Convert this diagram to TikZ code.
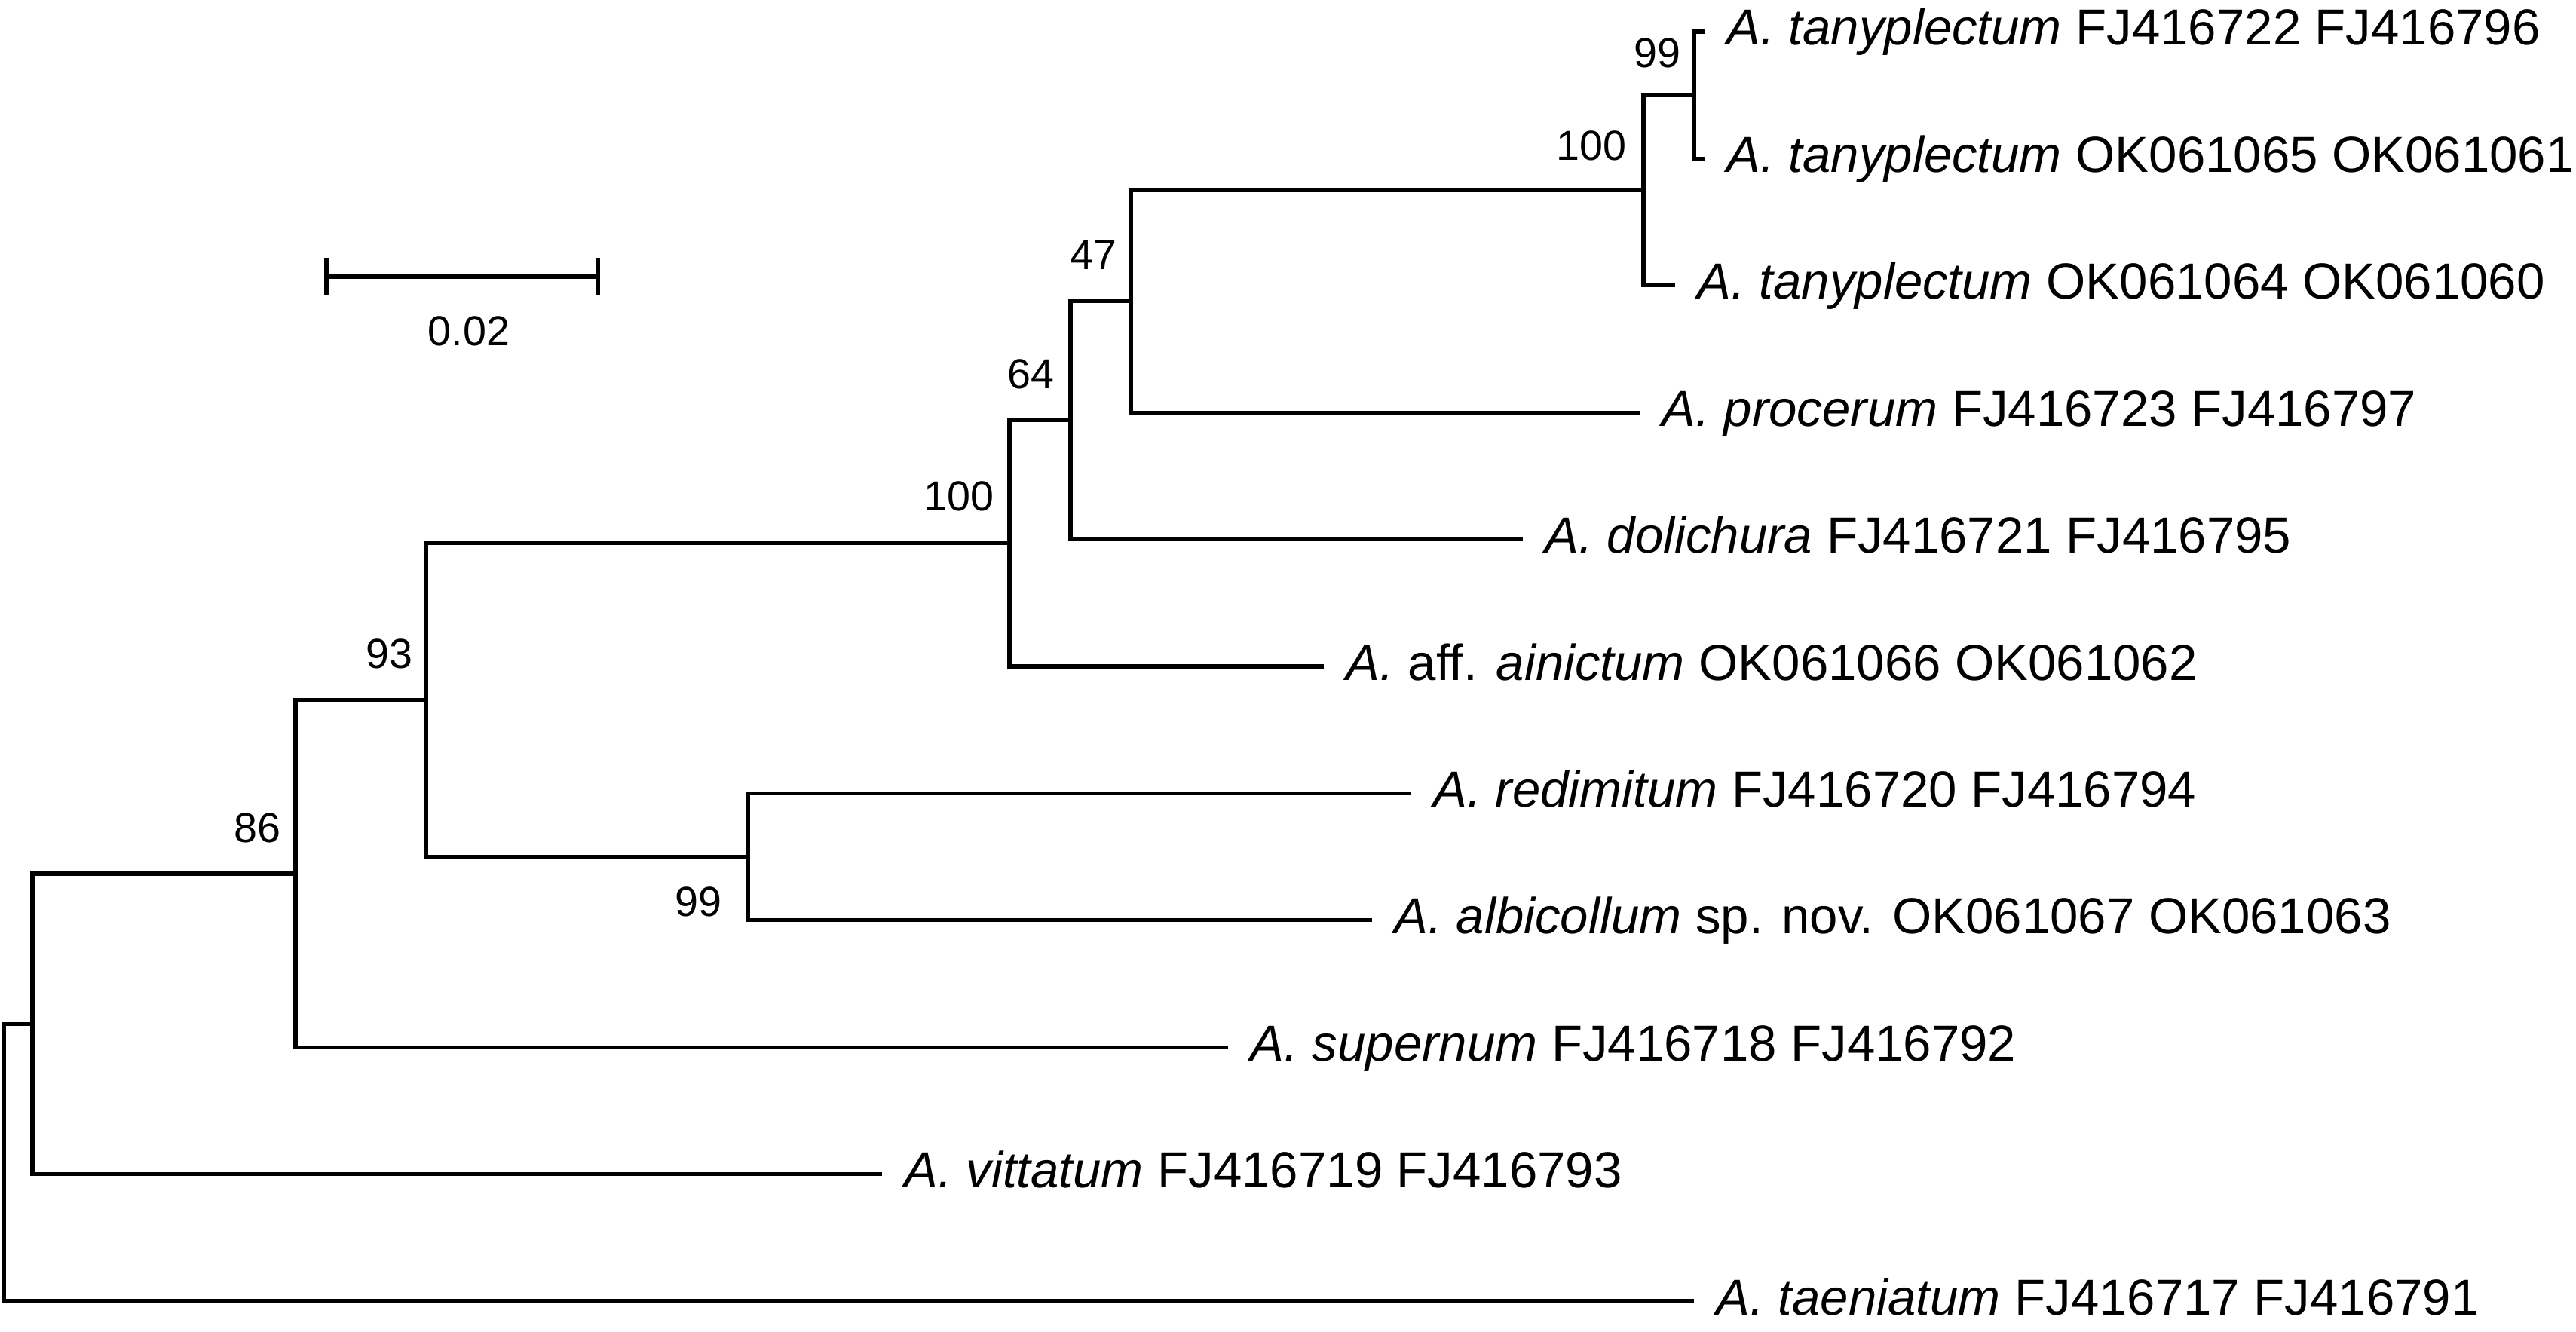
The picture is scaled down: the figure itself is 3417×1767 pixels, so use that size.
\documentclass[tikz,border=0pt]{standalone}
\usepackage{fontspec}
\setmainfont{Liberation Sans}
\usetikzlibrary{positioning}

\begin{document}
\begin{tikzpicture}[
  x=0.01cm, y=-0.01cm,
  branch/.style={line width=1.45pt},
  taxon/.style={anchor=base west, inner sep=0pt, font=\fontsize{19.1}{22}\selectfont},
  boot/.style={anchor=base east, inner sep=0pt, font=\fontsize{15.8}{19}\selectfont}
]
  \useasboundingbox (0,0) rectangle (3417,1767);

  % internal nodes
  \coordinate (root) at (5,1542);
  \coordinate (nA) at (43,1358.3);
  \coordinate (n86) at (392,1159);
  \coordinate (n93) at (565,928.7);
  \coordinate (n99b) at (992,1136.6);
  \coordinate (n100a) at (1339,720.9);
  \coordinate (n64) at (1420,557.7);
  \coordinate (n47) at (1500,399.85);
  \coordinate (n100b) at (2180,252.5);
  \coordinate (n99a) at (2247,126.2);

  % leaf ends
  \coordinate (tan1) at (2261,42);
  \coordinate (tan2) at (2261,210.4);
  \coordinate (tan3) at (2222,378.8);
  \coordinate (proc) at (2175,547.2);
  \coordinate (doli) at (2020,715.6);
  \coordinate (aini) at (1756,884);
  \coordinate (redi) at (1872,1052.4);
  \coordinate (albi) at (1820,1220.8);
  \coordinate (supe) at (1629,1389.2);
  \coordinate (vitt) at (1170,1557.6);
  \coordinate (taen) at (2247,1726);

  % branches
  \draw[branch] (root) |- (nA) (root) |- (taen);
  \draw[branch] (nA) |- (n86) (nA) |- (vitt);
  \draw[branch] (n86) |- (n93) (n86) |- (supe);
  \draw[branch] (n93) |- (n100a) (n93) |- (n99b);
  \draw[branch] (n99b) |- (redi) (n99b) |- (albi);
  \draw[branch] (n100a) |- (n64) (n100a) |- (aini);
  \draw[branch] (n64) |- (n47) (n64) |- (doli);
  \draw[branch] (n47) |- (n100b) (n47) |- (proc);
  \draw[branch] (n100b) |- (n99a) (n100b) |- (tan3);
  \draw[branch] (n99a) |- (tan1) (n99a) |- (tan2);

  % taxa
  \node[taxon] (Ltan1) at ([shift={(29,18)}]tan1) {\textit{A. tanyplectum} FJ416722 FJ416796};
  \node[taxon] (Ltan2) at ([shift={(29,18)}]tan2) {\textit{A. tanyplectum} OK061065 OK061061};
  \node[taxon] (Ltan3) at ([shift={(29,18)}]tan3) {\textit{A. tanyplectum} OK061064 OK061060};
  \node[taxon] (Lproc) at ([shift={(29,18)}]proc) {\textit{A. procerum} FJ416723 FJ416797};
  \node[taxon] (Ldoli) at ([shift={(29,18)}]doli) {\textit{A. dolichura} FJ416721 FJ416795};
  \node[taxon] (Laini) at ([shift={(29,18)}]aini) {\textit{A.} aff. \textit{ainictum} OK061066 OK061062};
  \node[taxon] (Lredi) at ([shift={(29,18)}]redi) {\textit{A. redimitum} FJ416720 FJ416794};
  \node[taxon] (Lalbi) at ([shift={(29,18)}]albi) {\textit{A. albicollum} sp. nov. OK061067 OK061063};
  \node[taxon] (Lsupe) at ([shift={(29,18)}]supe) {\textit{A. supernum} FJ416718 FJ416792};
  \node[taxon] (Lvitt) at ([shift={(29,18)}]vitt) {\textit{A. vittatum} FJ416719 FJ416793};
  \node[taxon] (Ltaen) at ([shift={(29,18)}]taen) {\textit{A. taeniatum} FJ416717 FJ416791};

  % bootstrap values
  \node[boot] (b99a) at ([shift={(-17,-37)}]n99a) {99};
  \node[boot] (b100b) at ([shift={(-22,-40)}]n100b) {100};
  \node[boot] (b47) at ([shift={(-18,-42)}]n47) {47};
  \node[boot] (b64) at ([shift={(-21,-42)}]n64) {64};
  \node[boot] (b100a) at ([shift={(-20,-43)}]n100a) {100};
  \node[boot] (b93) at ([shift={(-17,-42)}]n93) {93};
  \node[boot] (b86) at ([shift={(-19,-42)}]n86) {86};
  \node[boot] (b99b) at ([shift={(-34,79)}]n99b) {99};

  % scale bar
  \coordinate (sbL) at (433,367);
  \coordinate (sbR) at (793,367);
  \draw[branch] (sbL) -- (sbR);
  \draw[branch] ([shift={(0,-25)}]sbL) -- ([shift={(0,25)}]sbL);
  \draw[branch] ([shift={(0,-25)}]sbR) -- ([shift={(0,25)}]sbR);
  \node[boot, anchor=base] (sblbl) at (622,459) {0.02};
\end{tikzpicture}
\end{document}
